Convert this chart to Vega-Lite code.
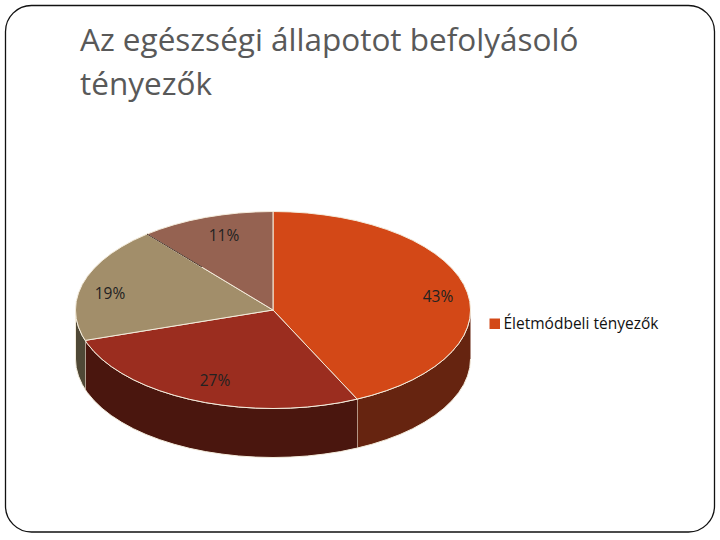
{"$schema":"https://vega.github.io/schema/vega-lite/v6.json","width":720,"height":540,"padding":0,"autosize":{"type":"none"},"background":"white","config":{"view":{"stroke":null}},
"title":{"text":["Az egészségi állapotot befolyásoló","tényezők"],"orient":"top","anchor":"start","frame":"group","baseline":"top","align":"left","dx":80,"dy":101,"offset":0,"lineHeight":44,"font":"Open Sans","fontSize":31.5,"fontWeight":"normal","color":"#595959"},
"datasets":{
"frame":[{"x":5.5,"x2":714.5,"y":5.5,"y2":532}],
"divider":[{"i":1,"x":147,"y":234.1},{"i":2,"x":202,"y":267}],
"labels":[{"label":"43%","share":43,"x":438,"y":297},{"label":"27%","share":27,"x":215,"y":381},{"label":"19%","share":19,"x":110,"y":294},{"label":"11%","share":11,"x":224,"y":236}],
"outline":[
{"part":"side43","i":1,"x":470.5,"y":310},{"part":"side43","i":2,"x":469.8,"y":318.6},{"part":"side43","i":3,"x":467.5,"y":327.1},{"part":"side43","i":4,"x":463.8,"y":335.5},{"part":"side43","i":5,"x":458.6,"y":343.7},{"part":"side43","i":6,"x":452,"y":351.6},{"part":"side43","i":7,"x":444,"y":359.3},{"part":"side43","i":8,"x":434.8,"y":366.5},{"part":"side43","i":9,"x":424.3,"y":373.3},{"part":"side43","i":10,"x":412.7,"y":379.7},{"part":"side43","i":11,"x":400,"y":385.5},{"part":"side43","i":12,"x":386.3,"y":390.7},{"part":"side43","i":13,"x":371.8,"y":395.3},{"part":"side43","i":14,"x":357.1,"y":399.1},
{"part":"side43","i":15,"x":357.1,"y":448.1},{"part":"side43","i":16,"x":371.8,"y":444.3},{"part":"side43","i":17,"x":386.3,"y":439.7},{"part":"side43","i":18,"x":400,"y":434.5},{"part":"side43","i":19,"x":412.7,"y":428.7},{"part":"side43","i":20,"x":424.3,"y":422.3},{"part":"side43","i":21,"x":434.8,"y":415.5},{"part":"side43","i":22,"x":444,"y":408.3},{"part":"side43","i":23,"x":452,"y":400.6},{"part":"side43","i":24,"x":458.6,"y":392.7},{"part":"side43","i":25,"x":463.8,"y":384.5},{"part":"side43","i":26,"x":467.5,"y":376.1},{"part":"side43","i":27,"x":469.8,"y":367.6},{"part":"side43","i":28,"x":470.5,"y":359},
{"part":"side27","i":1,"x":357.1,"y":399.1},{"part":"side27","i":2,"x":340.5,"y":402.6},{"part":"side27","i":3,"x":324.1,"y":405.1},{"part":"side27","i":4,"x":307.3,"y":407},{"part":"side27","i":5,"x":290.2,"y":408.1},{"part":"side27","i":6,"x":273,"y":408.5},{"part":"side27","i":7,"x":255.8,"y":408.1},{"part":"side27","i":8,"x":238.7,"y":407},{"part":"side27","i":9,"x":221.9,"y":405.1},{"part":"side27","i":10,"x":205.5,"y":402.6},{"part":"side27","i":11,"x":189.5,"y":399.3},{"part":"side27","i":12,"x":174.2,"y":395.3},{"part":"side27","i":13,"x":159.7,"y":390.7},{"part":"side27","i":14,"x":146,"y":385.5},{"part":"side27","i":15,"x":133.3,"y":379.7},{"part":"side27","i":16,"x":121.7,"y":373.3},{"part":"side27","i":17,"x":111.2,"y":366.5},{"part":"side27","i":18,"x":102,"y":359.3},{"part":"side27","i":19,"x":94,"y":351.6},{"part":"side27","i":20,"x":87.4,"y":343.7},{"part":"side27","i":21,"x":85.2,"y":340.4},
{"part":"side27","i":22,"x":85.2,"y":389.4},{"part":"side27","i":23,"x":87.4,"y":392.7},{"part":"side27","i":24,"x":94,"y":400.6},{"part":"side27","i":25,"x":102,"y":408.3},{"part":"side27","i":26,"x":111.2,"y":415.5},{"part":"side27","i":27,"x":121.7,"y":422.3},{"part":"side27","i":28,"x":133.3,"y":428.7},{"part":"side27","i":29,"x":146,"y":434.5},{"part":"side27","i":30,"x":159.7,"y":439.7},{"part":"side27","i":31,"x":174.2,"y":444.3},{"part":"side27","i":32,"x":189.5,"y":448.3},{"part":"side27","i":33,"x":205.5,"y":451.6},{"part":"side27","i":34,"x":221.9,"y":454.1},{"part":"side27","i":35,"x":238.7,"y":456},{"part":"side27","i":36,"x":255.8,"y":457.1},{"part":"side27","i":37,"x":273,"y":457.5},{"part":"side27","i":38,"x":290.2,"y":457.1},{"part":"side27","i":39,"x":307.3,"y":456},{"part":"side27","i":40,"x":324.1,"y":454.1},{"part":"side27","i":41,"x":340.5,"y":451.6},{"part":"side27","i":42,"x":357.1,"y":448.1},
{"part":"side19","i":1,"x":85.2,"y":340.4},{"part":"side19","i":2,"x":82.2,"y":335.5},{"part":"side19","i":3,"x":78.5,"y":327.1},{"part":"side19","i":4,"x":76.2,"y":318.6},{"part":"side19","i":5,"x":75.5,"y":310},{"part":"side19","i":6,"x":75.5,"y":359},{"part":"side19","i":7,"x":76.2,"y":367.6},{"part":"side19","i":8,"x":78.5,"y":376.1},{"part":"side19","i":9,"x":82.2,"y":384.5},{"part":"side19","i":10,"x":85.2,"y":389.4},
{"part":"Életmódbeli tényezők","i":1,"x":273,"y":310},{"part":"Életmódbeli tényezők","i":2,"x":273,"y":211.5},{"part":"Életmódbeli tényezők","i":3,"x":290.2,"y":211.9},{"part":"Életmódbeli tényezők","i":4,"x":307.3,"y":213},{"part":"Életmódbeli tényezők","i":5,"x":324.1,"y":214.9},{"part":"Életmódbeli tényezők","i":6,"x":340.5,"y":217.4},{"part":"Életmódbeli tényezők","i":7,"x":356.5,"y":220.7},{"part":"Életmódbeli tényezők","i":8,"x":371.8,"y":224.7},{"part":"Életmódbeli tényezők","i":9,"x":386.3,"y":229.3},{"part":"Életmódbeli tényezők","i":10,"x":400,"y":234.5},{"part":"Életmódbeli tényezők","i":11,"x":412.7,"y":240.3},{"part":"Életmódbeli tényezők","i":12,"x":424.3,"y":246.7},{"part":"Életmódbeli tényezők","i":13,"x":434.8,"y":253.5},{"part":"Életmódbeli tényezők","i":14,"x":444,"y":260.7},{"part":"Életmódbeli tényezők","i":15,"x":452,"y":268.4},{"part":"Életmódbeli tényezők","i":16,"x":458.6,"y":276.3},{"part":"Életmódbeli tényezők","i":17,"x":463.8,"y":284.5},{"part":"Életmódbeli tényezők","i":18,"x":467.5,"y":292.9},{"part":"Életmódbeli tényezők","i":19,"x":469.8,"y":301.4},{"part":"Életmódbeli tényezők","i":20,"x":470.5,"y":310},{"part":"Életmódbeli tényezők","i":21,"x":469.8,"y":318.6},{"part":"Életmódbeli tényezők","i":22,"x":467.5,"y":327.1},{"part":"Életmódbeli tényezők","i":23,"x":463.8,"y":335.5},{"part":"Életmódbeli tényezők","i":24,"x":458.6,"y":343.7},{"part":"Életmódbeli tényezők","i":25,"x":452,"y":351.6},{"part":"Életmódbeli tényezők","i":26,"x":444,"y":359.3},{"part":"Életmódbeli tényezők","i":27,"x":434.8,"y":366.5},{"part":"Életmódbeli tényezők","i":28,"x":424.3,"y":373.3},{"part":"Életmódbeli tényezők","i":29,"x":412.7,"y":379.7},{"part":"Életmódbeli tényezők","i":30,"x":400,"y":385.5},{"part":"Életmódbeli tényezők","i":31,"x":386.3,"y":390.7},{"part":"Életmódbeli tényezők","i":32,"x":371.8,"y":395.3},{"part":"Életmódbeli tényezők","i":33,"x":357.1,"y":399.1},{"part":"Életmódbeli tényezők","i":34,"x":273,"y":310},
{"part":"top27","i":1,"x":273,"y":310},{"part":"top27","i":2,"x":357.1,"y":399.1},{"part":"top27","i":3,"x":340.5,"y":402.6},{"part":"top27","i":4,"x":324.1,"y":405.1},{"part":"top27","i":5,"x":307.3,"y":407},{"part":"top27","i":6,"x":290.2,"y":408.1},{"part":"top27","i":7,"x":273,"y":408.5},{"part":"top27","i":8,"x":255.8,"y":408.1},{"part":"top27","i":9,"x":238.7,"y":407},{"part":"top27","i":10,"x":221.9,"y":405.1},{"part":"top27","i":11,"x":205.5,"y":402.6},{"part":"top27","i":12,"x":189.5,"y":399.3},{"part":"top27","i":13,"x":174.2,"y":395.3},{"part":"top27","i":14,"x":159.7,"y":390.7},{"part":"top27","i":15,"x":146,"y":385.5},{"part":"top27","i":16,"x":133.3,"y":379.7},{"part":"top27","i":17,"x":121.7,"y":373.3},{"part":"top27","i":18,"x":111.2,"y":366.5},{"part":"top27","i":19,"x":102,"y":359.3},{"part":"top27","i":20,"x":94,"y":351.6},{"part":"top27","i":21,"x":87.4,"y":343.7},{"part":"top27","i":22,"x":85.2,"y":340.4},{"part":"top27","i":23,"x":273,"y":310},
{"part":"top19","i":1,"x":273,"y":310},{"part":"top19","i":2,"x":85.2,"y":340.4},{"part":"top19","i":3,"x":82.2,"y":335.5},{"part":"top19","i":4,"x":78.5,"y":327.1},{"part":"top19","i":5,"x":76.2,"y":318.6},{"part":"top19","i":6,"x":75.5,"y":310},{"part":"top19","i":7,"x":76.2,"y":301.4},{"part":"top19","i":8,"x":78.5,"y":292.9},{"part":"top19","i":9,"x":82.2,"y":284.5},{"part":"top19","i":10,"x":87.4,"y":276.3},{"part":"top19","i":11,"x":94,"y":268.4},{"part":"top19","i":12,"x":102,"y":260.7},{"part":"top19","i":13,"x":111.2,"y":253.5},{"part":"top19","i":14,"x":121.7,"y":246.7},{"part":"top19","i":15,"x":133.3,"y":240.3},{"part":"top19","i":16,"x":147,"y":234.1},{"part":"top19","i":17,"x":273,"y":310},
{"part":"top11","i":1,"x":273,"y":310},{"part":"top11","i":2,"x":147,"y":234.1},{"part":"top11","i":3,"x":159.7,"y":229.3},{"part":"top11","i":4,"x":174.2,"y":224.7},{"part":"top11","i":5,"x":189.5,"y":220.7},{"part":"top11","i":6,"x":205.5,"y":217.4},{"part":"top11","i":7,"x":221.9,"y":214.9},{"part":"top11","i":8,"x":238.7,"y":213},{"part":"top11","i":9,"x":255.8,"y":211.9},{"part":"top11","i":10,"x":273,"y":211.5},{"part":"top11","i":11,"x":273,"y":310}
]},
"encoding":{"x":{"field":"x","type":"quantitative","scale":{"domain":[0,720],"nice":false,"zero":false},"axis":null},"y":{"field":"y","type":"quantitative","scale":{"domain":[540,0],"nice":false,"zero":false},"axis":null}},
"layer":[
{"data":{"name":"frame"},"mark":{"type":"rect","fill":"white","stroke":"#111111","strokeWidth":1.3,"cornerRadius":26},"encoding":{"x2":{"field":"x2"},"y2":{"field":"y2"}}},
{"data":{"name":"outline"},"mark":{"type":"line","filled":true,"stroke":"#f4ecdc","strokeWidth":1,"strokeJoin":"round","clip":false},"encoding":{"order":{"field":"i","type":"quantitative"},"color":{"field":"part","type":"nominal","scale":{"domain":["side43","side27","side19","Életmódbeli tényezők","top27","top19","top11"],"range":["#662410","#4A160E","#4F4836","#D34817","#9B2D1F","#A28E6A","#956251"]},"legend":{"title":null,"values":["Életmódbeli tényezők"],"orient":"none","legendX":487,"legendY":316,"symbolType":"square","symbolSize":110,"symbolStrokeWidth":0,"labelFont":"Open Sans","labelFontSize":15.5,"labelColor":"#111111","labelOffset":1,"labelLimit":220}}}},
{"data":{"name":"divider"},"mark":{"type":"line","stroke":"#4a3328","strokeWidth":1},"encoding":{"order":{"field":"i","type":"quantitative"}}},
{"data":{"name":"labels"},"mark":{"type":"text","font":"Open Sans","fontSize":15.5,"color":"#222222","align":"center","baseline":"middle"},"encoding":{"text":{"field":"label"}}}
]}
